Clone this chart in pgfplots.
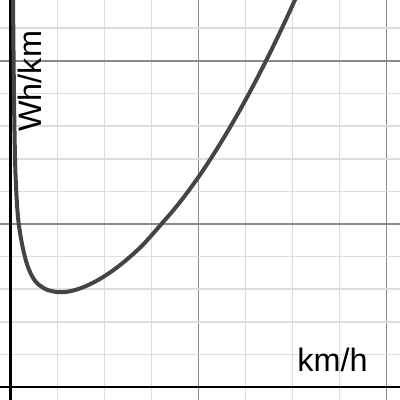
\documentclass[border=0pt]{standalone}
\usepackage{pgfplots}
\pgfplotsset{compat=1.18}
\usepackage{fontspec}
\setmainfont{Liberation Sans}
\definecolor{minorgrid}{HTML}{DDDDDD}
\definecolor{majorgrid}{HTML}{8A8A8A}
\definecolor{curve}{HTML}{444444}
\begin{document}
\begin{tikzpicture}
\begin{axis}[
  scale only axis,
  width=300pt, height=300pt,
  xmin=-1.117, xmax=41.44,
  ymin=-3.99, ymax=118.7,
  axis line style={draw=none},
  xtick={-100,20,40}, ytick={-100,50,100},
  minor xtick={5,10,15,25,30,35},
  minor ytick={10,20,30,40,60,70,80,90,110},
  xticklabels={}, yticklabels={},
  major tick length=0pt, minor tick length=0pt,
  grid=both,
  minor grid style={minorgrid, line width=1.3pt},
  major grid style={majorgrid, line width=1.3pt},
  clip=true,
]
\addplot[draw=black, line width=2.2pt] coordinates {(0,-10) (0,130)};
\addplot[draw=black, line width=2.2pt] coordinates {(-5,0) (50,0)};
\addplot[curve, line width=3pt, smooth] coordinates {
  (0.22,140) (0.27,118.7) (0.33,100) (0.4,83) (0.5,68) (0.65,58)
  (0.8,52) (1.0,47.5) (1.25,43.5) (1.5,40.3) (1.8,37.3) (2.18,34.6)
  (2.6,32.6) (3,31.4) (3.5,30.4) (4,29.7) (5,29.1) (6,29.2) (7,29.86)
  (8,30.92) (9,32.31) (10,34.0) (11,35.96) (12,38.18) (13,40.64)
  (14,43.35) (15,46.5) (16,49.8) (17,53.1) (18,56.6) (19,60.4)
  (20,64.4) (21,68.68) (22,73.19) (23,77.91) (24,82.86) (25,88.02)
  (26,93.39) (27,98.98) (28,104.79) (29,110.81) (30,117.05) (31,123.49)
};
\node[anchor=base east, inner sep=0pt, font=\fontsize{24.3}{29}\selectfont] at (axis cs:38.03,4.6) {km/h};
\node[anchor=base west, rotate=90, inner sep=0pt, font=\fontsize{24.3}{29}\selectfont] at (axis cs:3.35,78.2) {Wh/km};
\end{axis}
\pgfresetboundingbox
\path (current axis.south west) rectangle (current axis.north east);
\end{tikzpicture}
\end{document}
